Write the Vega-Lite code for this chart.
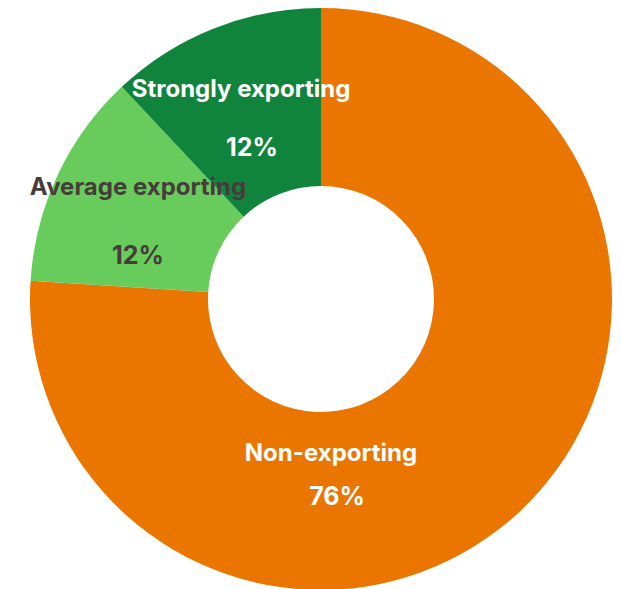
{
  "$schema": "https://vega.github.io/schema/vega-lite/v6.json",
  "width": 642,
  "height": 598,
  "autosize": "none",
  "padding": 0,
  "background": "white",
  "config": {"view": {"stroke": null}},
  "data": {"values": [
    {"category": "Non-exporting", "value": 76, "order": 1, "pct": "76%"},
    {"category": "Average exporting", "value": 12, "order": 2, "pct": "12%"},
    {"category": "Strongly exporting", "value": 12, "order": 3, "pct": "12%"}
  ]},
  "transform": [{"stack": "value", "groupby": [], "sort": [{"field": "order"}], "as": ["v0", "v1"]}],
  "encoding": {
    "theta": {"field": "v0", "type": "quantitative", "scale": {"domain": [0, 100], "range": [0, 6.283185307]}}
  },
  "layer": [
    {
      "mark": {"type": "arc", "outerRadius": 291, "innerRadius": 113, "stroke": null},
      "encoding": {
        "theta2": {"field": "v1"},
        "color": {"field": "category", "type": "nominal", "legend": null,
          "scale": {"domain": ["Non-exporting", "Average exporting", "Strongly exporting"], "range": ["#EA7600", "#68CC5C", "#10843C"]}}
      }
    },
    {
      "transform": [{"filter": "datum.category == 'Non-exporting'"}],
      "mark": {"type": "text", "radius": 155, "thetaOffset": 3.077, "font": "Inter", "fontWeight": "bold", "fontSize": 24, "color": "white", "align": "center", "baseline": "middle"},
      "encoding": {"text": {"field": "category"}}
    },
    {
      "transform": [{"filter": "datum.category == 'Non-exporting'"}],
      "mark": {"type": "text", "radius": 199, "thetaOffset": 3.061, "font": "Inter", "fontWeight": "bold", "fontSize": 25, "color": "white", "align": "center", "baseline": "middle"},
      "encoding": {"text": {"field": "pct"}}
    },
    {
      "transform": [{"filter": "datum.category == 'Average exporting'"}],
      "mark": {"type": "text", "radius": 214, "thetaOffset": 0.482, "font": "Inter", "fontWeight": "bold", "fontSize": 24, "color": "#473B3B", "align": "center", "baseline": "middle"},
      "encoding": {"text": {"field": "category"}}
    },
    {
      "transform": [{"filter": "datum.category == 'Average exporting'"}],
      "mark": {"type": "text", "radius": 188, "thetaOffset": 0.168, "font": "Inter", "fontWeight": "bold", "fontSize": 25, "color": "#473B3B", "align": "center", "baseline": "middle"},
      "encoding": {"text": {"field": "pct"}}
    },
    {
      "transform": [{"filter": "datum.category == 'Strongly exporting'"}],
      "mark": {"type": "text", "radius": 224, "thetaOffset": 0.389, "font": "Inter", "fontWeight": "bold", "fontSize": 24, "color": "white", "align": "center", "baseline": "middle"},
      "encoding": {"text": {"field": "category"}}
    },
    {
      "transform": [{"filter": "datum.category == 'Strongly exporting'"}],
      "mark": {"type": "text", "radius": 166, "thetaOffset": 0.325, "font": "Inter", "fontWeight": "bold", "fontSize": 25, "color": "white", "align": "center", "baseline": "middle"},
      "encoding": {"text": {"field": "pct"}}
    }
  ]
}
